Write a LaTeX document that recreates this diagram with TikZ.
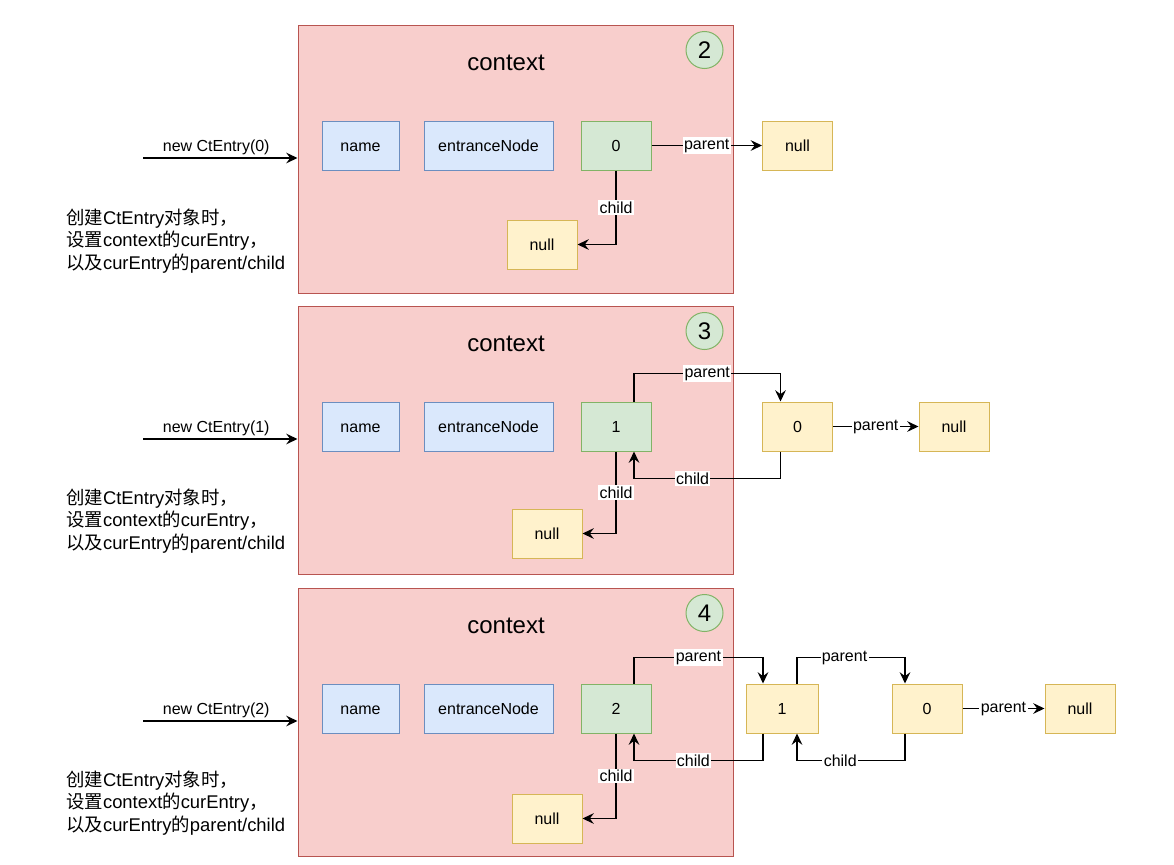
\documentclass[tikz,border=0pt]{standalone}
\usepackage{fontspec}
\setmainfont{Liberation Sans}
\newfontfamily\cjk{Noto Sans CJK SC}
\usetikzlibrary{arrows.meta,calc}
\definecolor{panelfill}{HTML}{F8CECC}
\definecolor{panelline}{HTML}{B85450}
\definecolor{bluefill}{HTML}{DAE8FC}
\definecolor{blueline}{HTML}{6C8EBF}
\definecolor{greenfill}{HTML}{D5E8D4}
\definecolor{greenline}{HTML}{82B366}
\definecolor{yellowfill}{HTML}{FFF2CC}
\definecolor{yellowline}{HTML}{D6B656}
\newcommand{\notetext}{{\cjk 创建}CtEntry{\cjk 对象时，}\\{\cjk 设置}context{\cjk 的}curEntry{\cjk ，}\\{\cjk 以及}curEntry{\cjk 的}parent/child}
\begin{document}
\begin{tikzpicture}[x=0.75pt,y=-0.75pt,
  panel/.style={draw=panelline, fill=panelfill, line width=0.75pt, minimum width=326.25pt, minimum height=201pt, inner sep=0pt},
  box/.style={line width=0.75pt, minimum height=36.75pt, minimum width=52.5pt, inner sep=0pt, text height=9pt, text depth=0pt, font=\fontsize{12}{14}\selectfont},
  bluebox/.style={box, draw=blueline, fill=bluefill},
  greenbox/.style={box, draw=greenline, fill=greenfill},
  yellowbox/.style={box, draw=yellowline, fill=yellowfill},
  conn/.style={draw=black, line width=1.1pt, -{Stealth[length=8.5pt,width=8pt,inset=3pt]}},
  lbl/.style={fill=white, inner sep=1pt, font=\fontsize{12}{14}\selectfont},
  badge/.style={circle, draw=greenline, fill=greenfill, minimum size=27.75pt, inner sep=0pt, line width=0.75pt, font=\fontsize{18}{20}\selectfont},
  title/.style={font=\fontsize{18}{20}\selectfont},
  note/.style={align=left, anchor=west, inner sep=0pt, font=\fontsize{13.8}{17}\selectfont},
  inlbl/.style={above, xshift=-3pt, yshift=-1.5pt, font=\fontsize{12}{14}\selectfont}
]
\useasboundingbox (0,0) rectangle (1174,864);

% ---------- panel 1 ----------
\node[panel] (p1) at (515.5,159) {};
\node[title] (t1) at (506,63) {context};
\node[badge] (b1) at (704.5,50) {2};
\node[bluebox, minimum width=57.75pt] (nm1) at (360.5,145.5) {name};
\node[bluebox, minimum width=96.75pt] (en1) at (488.5,145.5) {entranceNode};
\node[greenbox] (ga) at (616,145.5) {0};
\node[yellowbox] (na) at (797.5,145.5) {null};
\node[yellowbox] (nba) at (542,244.5) {null};
\coordinate (s1) at (143,158);
\draw[conn] (s1) -- node[inlbl] {new CtEntry(0)} (s1 -| p1.west);
\node[note] (c1) at (66,241) {\notetext};
\draw[conn] (ga) -- node[lbl] {parent} (na);
\draw[conn] (ga.south) |- node[lbl, pos=0.25] {child} (nba.east);

% ---------- panel 2 ----------
\node[panel] (p2) at (515.5,440) {};
\node[title] (t2) at (506,344) {context};
\node[badge] (b2) at (704.5,331) {3};
\node[bluebox, minimum width=57.75pt] (nm2) at (360.5,426.5) {name};
\node[bluebox, minimum width=96.75pt] (en2) at (488.5,426.5) {entranceNode};
\node[greenbox] (gb) at (616,426.5) {1};
\node[yellowbox] (yb0) at (797.5,426.5) {0};
\node[yellowbox] (nb) at (954,426.5) {null};
\node[yellowbox] (nbb) at (547,533.5) {null};
\coordinate (s2) at (143,439);
\draw[conn] (s2) -- node[inlbl] {new CtEntry(1)} (s2 -| p2.west);
\node[note] (c2) at (66,521) {\notetext};
\draw[conn] ([shift={(18,0)}]gb.north) -- ++(0,-28) -| node[lbl, pos=0.25] {parent} ([shift={(-17,0)}]yb0.north);
\draw[conn] ([shift={(-17,0)}]yb0.south) -- ++(0,27) -| node[lbl, pos=0.3] {child} ([shift={(18,0)}]gb.south);
\draw[conn] (yb0) -- node[lbl] {parent} (nb);
\draw[conn] (gb.south) |- node[lbl, pos=0.25] {child} (nbb.east);

% ---------- panel 3 ----------
\node[panel] (p3) at (515.5,722) {};
\node[title] (t3) at (506,626) {context};
\node[badge] (b3) at (704.5,613) {4};
\node[bluebox, minimum width=57.75pt] (nm3) at (360.5,708.5) {name};
\node[bluebox, minimum width=96.75pt] (en3) at (488.5,708.5) {entranceNode};
\node[greenbox] (gc) at (616,708.5) {2};
\node[yellowbox, minimum width=54pt] (yc1) at (782,708.5) {1};
\node[yellowbox] (yc0) at (927,708.5) {0};
\node[yellowbox] (nc) at (1080,708.5) {null};
\node[yellowbox] (nbc) at (547,818.5) {null};
\coordinate (s3) at (143,721);
\draw[conn] (s3) -- node[inlbl] {new CtEntry(2)} (s3 -| p3.west);
\node[note] (c3) at (66,803) {\notetext};
\draw[conn] ([shift={(18,0)}]gc.north) -- ++(0,-26) -| node[lbl, pos=0.25] {parent} ([shift={(-19,0)}]yc1.north);
\draw[conn] ([shift={(-19,0)}]yc1.south) -- ++(0,27) -| node[lbl, pos=0.27] {child} ([shift={(18,0)}]gc.south);
\draw[conn] ([shift={(15,0)}]yc1.north) -- ++(0,-26) -| node[lbl, pos=0.22] {parent} ([shift={(-22,0)}]yc0.north);
\draw[conn] ([shift={(-22,0)}]yc0.south) -- ++(0,27) -| node[lbl, pos=0.3] {child} ([shift={(15,0)}]yc1.south);
\draw[conn] (yc0) -- node[lbl] {parent} (nc);
\draw[conn] (gc.south) |- node[lbl, pos=0.25] {child} (nbc.east);
\end{tikzpicture}
\end{document}
